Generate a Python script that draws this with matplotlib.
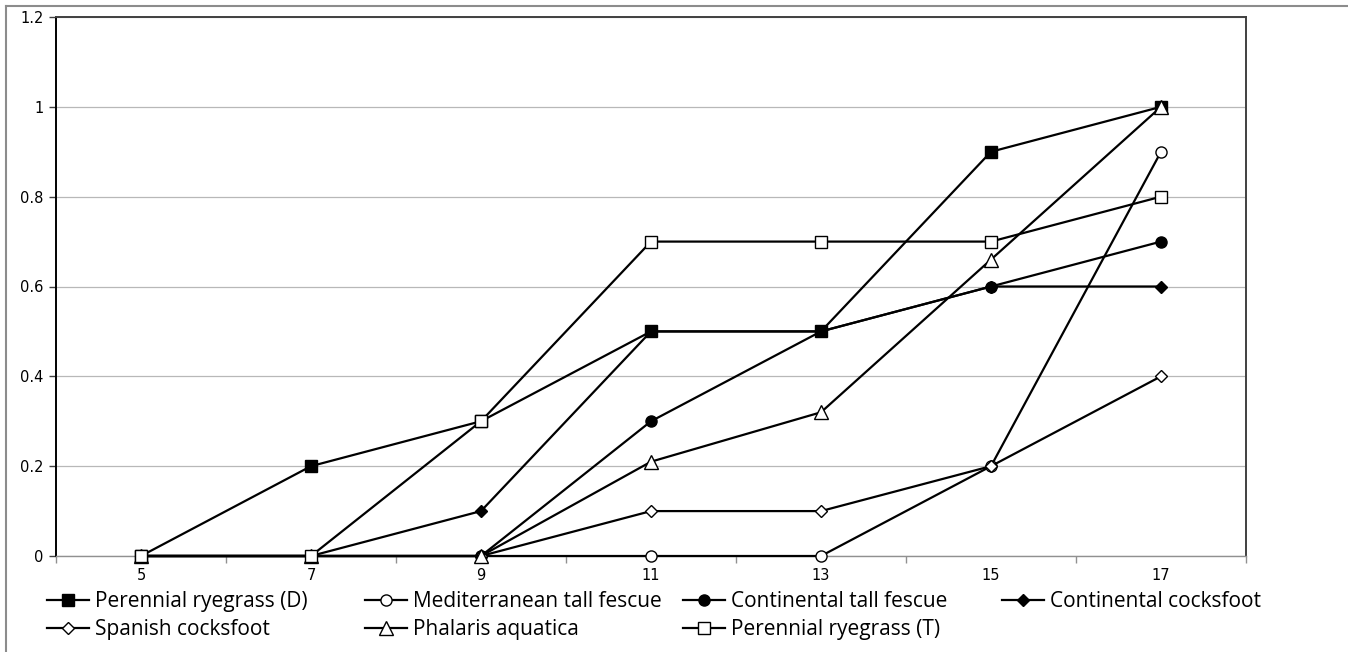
import matplotlib
matplotlib.use("Agg")
import matplotlib.pyplot as plt
from matplotlib.lines import Line2D
import numpy as np

# data
days = ["5", "7", "9", "11", "13", "15", "17"]

ryegrass_d = [0, 0.2, 0.3, 0.5, 0.5, 0.9, 1.0]
med_tall_fescue = [0, 0, 0, 0, 0, 0.2, 0.9]
cont_tall_fescue = [0, 0, 0, 0.3, 0.5, 0.6, 0.7]
cont_cocksfoot = [0, 0, 0.1, 0.5, 0.5, 0.6, 0.6]
spanish_cocksfoot = [0, 0, 0, 0.1, 0.1, 0.2, 0.4]
phalaris = [0, 0, 0, 0.21, 0.32, 0.66, 1.0]
ryegrass_t = [0, 0, 0.3, 0.7, 0.7, 0.7, 0.8]

series = [
    ("Perennial ryegrass (D)", ryegrass_d, "s", "black", 8.6),
    ("Mediterranean tall fescue", med_tall_fescue, "o", "white", 8.0),
    ("Continental tall fescue", cont_tall_fescue, "o", "black", 8.0),
    ("Continental cocksfoot", cont_cocksfoot, "D", "black", 6.0),
    ("Spanish cocksfoot", spanish_cocksfoot, "D", "white", 6.0),
    ("Phalaris aquatica", phalaris, "^", "white", 9.5),
    ("Perennial ryegrass (T)", ryegrass_t, "s", "white", 8.6),
]

W, H = 1348, 652
fig = plt.figure(figsize=(W / 100, H / 100), dpi=100)
ax = fig.add_axes([56 / W, (H - 556) / H, 1190 / W, 539 / H])

x = np.arange(len(days))
handles = []
for name, vals, mk, fc, ms in series:
    ln, = ax.plot(x, vals, color="black", lw=1.6, marker=mk, markersize=ms,
                  markerfacecolor=fc, markeredgecolor="black", markeredgewidth=1.0,
                  label=name, clip_on=False, zorder=3)
    handles.append(ln)

# axes styling (Excel-like)
ax.set_xlim(-0.5, len(days) - 0.5)
ax.set_ylim(0, 1.2)
ax.set_yticks(np.arange(0, 1.21, 0.2))
ax.set_yticklabels(["0", "0.2", "0.4", "0.6", "0.8", "1", "1.2"])
ax.set_xticks(x)
ax.set_xticklabels(days)
ax.set_xticks(np.arange(-0.5, len(days), 1.0), minor=True)

ax.tick_params(axis="y", direction="out", length=5, width=1, color="#404040",
               labelsize=10.5, pad=4)
ax.tick_params(axis="x", which="major", length=0, labelsize=10.5, pad=9)
ax.tick_params(axis="x", which="minor", direction="out", length=5, width=1,
               color="#909090")

ax.yaxis.grid(True, color="#b8b8b8", lw=0.9)
ax.set_axisbelow(True)

ax.spines["left"].set_color("black")
ax.spines["left"].set_linewidth(1.4)
ax.spines["top"].set_color("#404040")
ax.spines["top"].set_linewidth(1.4)
ax.spines["right"].set_color("#404040")
ax.spines["right"].set_linewidth(1.4)
ax.spines["bottom"].set_color("#909090")
ax.spines["bottom"].set_linewidth(1.0)

# outer chart frame (top and left edges)
fig.add_artist(Line2D([6 / W, 6 / W], [0, 1 - 6 / H], transform=fig.transFigure,
                      color="#8c8c8c", lw=1.5))
fig.add_artist(Line2D([6 / W, 1], [1 - 6 / H, 1 - 6 / H], transform=fig.transFigure,
                      color="#8c8c8c", lw=1.5))

# legend: 4 equal-width columns, two rows
columns = [[0, 4], [1, 5], [2, 6], [3]]
col_x = [47, 365, 683, 1002]
for cx, idx in zip(col_x, columns):
    fig.legend([handles[i] for i in idx], [series[i][0] for i in idx],
               loc="upper left", bbox_to_anchor=(cx / W, 1 - 591 / H),
               frameon=False, ncol=1, numpoints=1, borderpad=0, borderaxespad=0,
               handlelength=2.0, handletextpad=0.3, labelspacing=0.33,
               prop={"family": "Open Sans", "size": 15})

fig.savefig("out.png", dpi=100)
